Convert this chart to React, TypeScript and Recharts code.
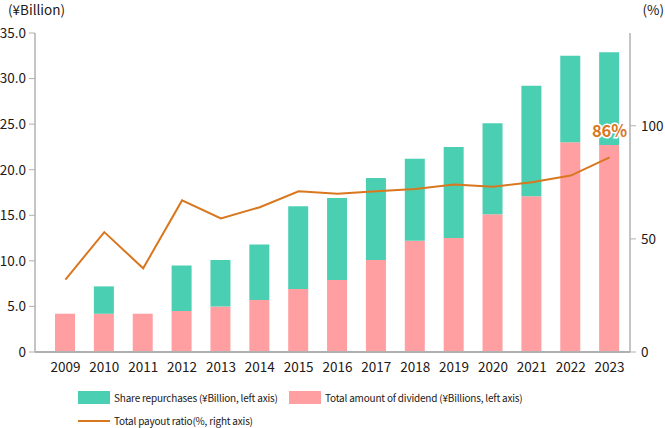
import React from 'react';
import { ComposedChart, Bar, Line, XAxis, YAxis, LabelList } from 'recharts';

const years = ['2009', '2010', '2011', '2012', '2013', '2014', '2015', '2016', '2017', '2018', '2019', '2020', '2021', '2022', '2023'];
const dividend = [4.2, 4.2, 4.2, 4.5, 5.0, 5.7, 6.9, 7.9, 10.1, 12.2, 12.5, 15.1, 17.1, 23.0, 22.7];
const repurchase = [0, 3.0, 0, 5.0, 5.1, 6.1, 9.1, 9.0, 9.0, 9.0, 10.0, 10.0, 12.1, 9.5, 10.2];
const payout = [32, 53, 37, 67, 59, 64, 71, 70, 71, 72, 74, 73, 75, 78, 86];
const leftTicks = [0, 5, 10, 15, 20, 25, 30, 35];
const rightTicks = [0, 50, 100];

const data = years.map((y, i) => ({ year: y, dividend: dividend[i], repurchase: repurchase[i], payout: payout[i] }));

const FONT = '"Noto Sans CJK JP", "Noto Sans", sans-serif';
const TEXT = '#231815';
const TEAL = '#4ACFB3';
const PINK = '#FF9FA2';
const ORANGE = '#D9771F';
const AXIS = '#B0B0B0';

const LastLabel = (props: any) => {
  const { x, y, index, value } = props;
  if (index !== payout.length - 1) return null;
  return (
    <text x={x} y={y - 20} textAnchor="middle" fontFamily={FONT} fontSize={16.5} fontWeight="bold"
      fill={ORANGE} stroke="#fff" strokeWidth={3} style={{ paintOrder: 'stroke' }}>
      {`${value}%`}
    </text>
  );
};

export default function App() {
  const tickStyle = { fontFamily: FONT, fontSize: 13.5, fill: TEXT };
  const legendText = { position: 'absolute' as const, fontSize: 10, lineHeight: '16px', whiteSpace: 'nowrap' as const, letterSpacing: '-0.2px' };
  return (
    <div style={{ position: 'absolute', left: 0, top: 0, width: 665, height: 428, background: '#fff', fontFamily: FONT, color: TEXT }}>
      <ComposedChart width={665} height={428} data={data} margin={{ top: 33, right: 0, bottom: 46, left: 0 }}>
        <XAxis dataKey="year" xAxisId={0} height={30} tickLine={false} tickSize={0} tickMargin={10}
          axisLine={{ stroke: AXIS, strokeWidth: 2 }} tick={tickStyle} padding={{ left: 11, right: 1 }} interval={0} />
        <YAxis yAxisId="left" orientation="left" width={35} domain={[0, 35]} ticks={leftTicks}
          tickFormatter={(v: number) => (v === 0 ? '0' : v.toFixed(1))} tickSize={6} tickMargin={3}
          axisLine={{ stroke: AXIS, strokeWidth: 1.5 }} tickLine={{ stroke: AXIS }} tick={tickStyle} />
        <YAxis yAxisId="right" orientation="right" width={35} domain={[0, 141]} ticks={rightTicks}
          tickSize={6} tickMargin={5} axisLine={{ stroke: AXIS, strokeWidth: 1.5 }} tickLine={{ stroke: AXIS }} tick={{ ...tickStyle, textAnchor: 'start' }} />
        <Bar yAxisId="left" dataKey="dividend" stackId="a" fill={PINK} barSize={20} isAnimationActive={false} />
        <Bar yAxisId="left" dataKey="repurchase" stackId="a" fill={TEAL} barSize={20} isAnimationActive={false} />
        <Line yAxisId="right" dataKey="payout" type="linear" stroke={ORANGE} strokeWidth={2} dot={false} isAnimationActive={false}>
          <LabelList dataKey="payout" content={<LastLabel />} />
        </Line>
      </ComposedChart>

      <div style={{ position: 'absolute', left: 8, top: 0, fontSize: 13.5, lineHeight: '18px', whiteSpace: 'nowrap' }}>(¥Billion)</div>
      <div style={{ position: 'absolute', right: 1, top: 0, fontSize: 13.5, lineHeight: '18px', whiteSpace: 'nowrap' }}>(%)</div>

      <div style={{ position: 'absolute', left: 78, top: 391, width: 32, height: 13, background: TEAL }} />
      <div style={{ ...legendText, left: 114, top: 389.5 }}>Share repurchases (¥Billion, left axis)</div>
      <div style={{ position: 'absolute', left: 289, top: 391, width: 32, height: 13, background: PINK }} />
      <div style={{ ...legendText, left: 325, top: 389.5 }}>Total amount of dividend (¥Billions, left axis)</div>
      <div style={{ position: 'absolute', left: 78, top: 420, width: 32, height: 2, background: ORANGE }} />
      <div style={{ ...legendText, left: 114, top: 413 }}>Total payout ratio(%, right axis)</div>
    </div>
  );
}
